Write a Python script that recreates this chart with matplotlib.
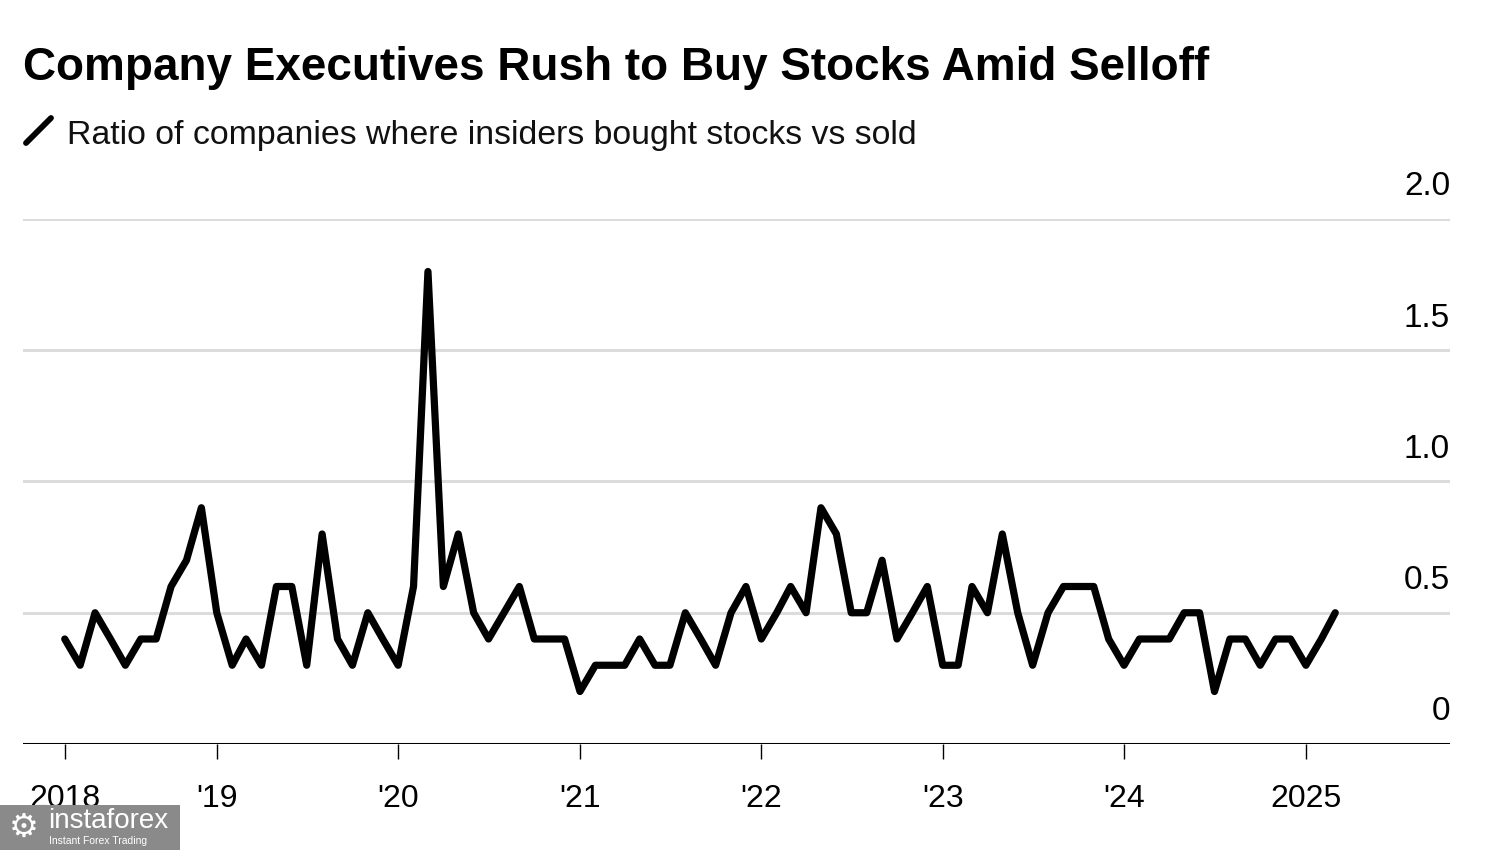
import matplotlib
matplotlib.use("Agg")
import matplotlib.pyplot as plt
import matplotlib.dates as mdates
from matplotlib.patches import Rectangle
from matplotlib.lines import Line2D
import pandas as pd

# monthly ratio, Mar 2018 .. Mar 2025
months = pd.date_range("2018-03-01", "2025-03-01", freq="MS")
ratio = [0.4, 0.3, 0.5, 0.4, 0.3, 0.4, 0.4, 0.6, 0.7, 0.9,   # 2018
         0.5, 0.3, 0.4, 0.3, 0.6, 0.6, 0.3, 0.8, 0.4, 0.3, 0.5, 0.4,  # 2019
         0.3, 0.6, 1.8, 0.6, 0.8, 0.5, 0.4, 0.5, 0.6, 0.4, 0.4, 0.4,  # 2020
         0.2, 0.3, 0.3, 0.3, 0.4, 0.3, 0.3, 0.5, 0.4, 0.3, 0.5, 0.6,  # 2021
         0.4, 0.5, 0.6, 0.5, 0.9, 0.8, 0.5, 0.5, 0.7, 0.4, 0.5, 0.6,  # 2022
         0.3, 0.3, 0.6, 0.5, 0.8, 0.5, 0.3, 0.5, 0.6, 0.6, 0.6, 0.4,  # 2023
         0.3, 0.4, 0.4, 0.4, 0.5, 0.5, 0.2, 0.4, 0.4, 0.3, 0.4, 0.4,  # 2024
         0.3, 0.4, 0.5]                                               # 2025

tick_dates = ["2018-03-01", "2019-01-01", "2020-01-01", "2021-01-01",
              "2022-01-01", "2023-01-01", "2024-01-01", "2025-01-01"]
tick_labels = ["2018", "'19", "'20", "'21", "'22", "'23", "'24", "2025"]
y_ticks = [0, 0.5, 1.0, 1.5, 2.0]
y_labels = ["0", "0.5", "1.0", "1.5", "2.0"]

title = "Company Executives Rush to Buy Stocks Amid Selloff"
subtitle = "Ratio of companies where insiders bought stocks vs sold"

plt.rcParams["font.family"] = ["Liberation Sans", "DejaVu Sans"]

W, H = 1500, 850
fig = plt.figure(figsize=(15, 8.5), dpi=100)
fig.patch.set_facecolor("white")

ax = fig.add_axes([23 / W, 1 - 744 / H, (1450 - 23) / W, (744 - 219) / H])
ax.set_facecolor("white")

# gridlines
for v in y_ticks[1:]:
    ax.axhline(v, color="#dcdcdc", lw=2.2, zorder=1)
ax.axhline(0, color="black", lw=2.2, zorder=2)

ax.plot(months, ratio, color="black", lw=5.2, solid_joinstyle="round",
        solid_capstyle="round", zorder=3)

first = mdates.date2num(pd.Timestamp("2018-03-01"))
ax.set_xlim(first - 84, mdates.date2num(pd.Timestamp("2025-01-01")) + 290)
ax.set_ylim(0, 2.0)

for s in ax.spines.values():
    s.set_visible(False)

ax.set_xticks([mdates.date2num(pd.Timestamp(d)) for d in tick_dates])
ax.set_xticklabels(tick_labels, fontsize=23)
ax.tick_params(axis="x", length=11, width=1.0, color="black", pad=18,
               direction="out")
ax.set_yticks([])

# y labels sit above the gridlines on the right
for v, lab in zip(y_ticks, y_labels):
    ax.annotate(lab, xy=(1.0, v), xycoords=("axes fraction", "data"),
                xytext=(0, 17), textcoords="offset points",
                ha="right", va="baseline", fontsize=24, color="black")

# title and subtitle
fig.text(23 / W, 1 - 80 / H, title, fontsize=33, fontweight="bold",
         ha="left", va="baseline", color="black")
fig.add_artist(Line2D([26 / W, 51 / W], [1 - 143 / H, 1 - 118 / H],
                      color="black", lw=4.2, solid_capstyle="round"))
fig.text(67 / W, 1 - 144 / H, subtitle, fontsize=24.4, ha="left",
         va="baseline", color="#111111")

# watermark box
fig.add_artist(Rectangle((0, 0), 180 / W, 45 / H, transform=fig.transFigure,
                         facecolor="#8a8a8a", edgecolor="none", zorder=5))
fig.text(24 / W, 1 - 827 / H, "\u2699", fontsize=24, color="white",
         ha="center", va="center", family="DejaVu Sans", zorder=6)
fig.text(48 / W, 1 - 828 / H, "instaforex", fontsize=20, color="white",
         ha="left", va="baseline", zorder=6)
fig.text(49 / W, 1 - 844 / H, "Instant Forex Trading", fontsize=7.5,
         color="white", ha="left", va="baseline", zorder=6)

fig.savefig("out.png", dpi=100, facecolor="white")
